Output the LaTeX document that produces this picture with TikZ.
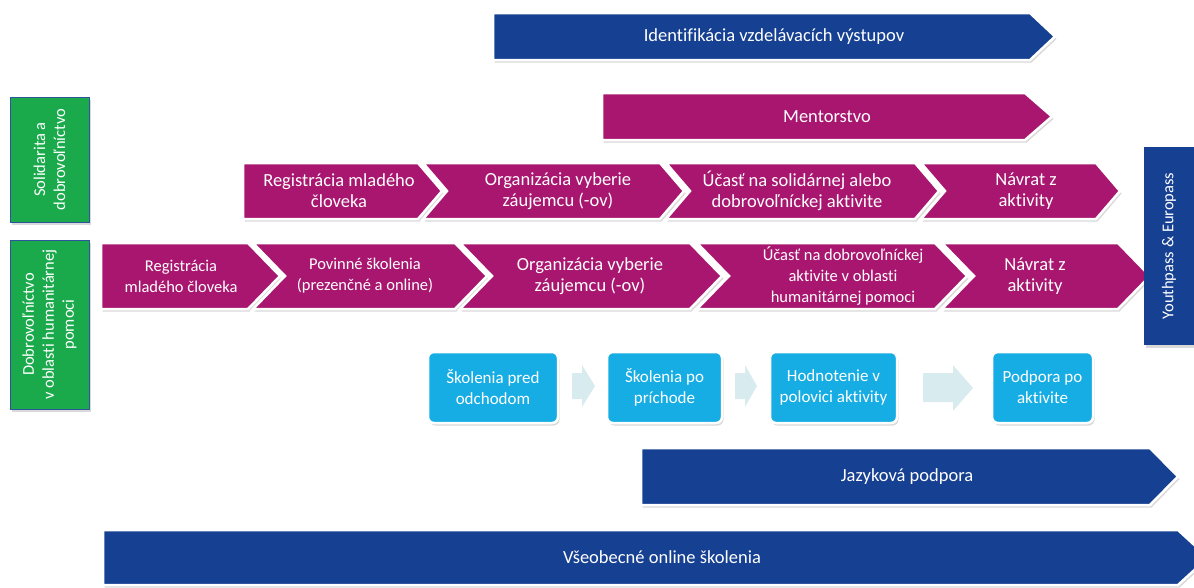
\documentclass[tikz,border=0pt]{standalone}
\usepackage{fontspec}
\setmainfont{Carlito}[Ligatures=NoCommon, RawFeature={-calt;-clig}]
\usetikzlibrary{shadows}

\definecolor{darkblue}{RGB}{22,64,146}
\definecolor{plum}{RGB}{168,22,112}
\definecolor{leafgreen}{RGB}{26,170,75}
\definecolor{skyblue}{RGB}{22,173,228}
\definecolor{palecyan}{RGB}{216,235,238}
\definecolor{edgeblue}{RGB}{46,84,160}

\tikzset{
  band/.style={draw=white, line width=2.5pt, line join=miter,
    drop shadow={shadow xshift=1.5pt, shadow yshift=-2.5pt, opacity=.3}},
  lbl/.style={text=white, align=center, font=\fontsize{18.5}{21}\selectfont},
  small/.style={text=white, align=center, font=\fontsize{16.5}{21}\selectfont},
  sidebox/.style={rotate=90, fill=leafgreen, draw=edgeblue, line width=0.8pt,
    text=white, align=center, font=\fontsize{16.5}{20}\selectfont,
    drop shadow={shadow xshift=1.5pt, shadow yshift=-2.5pt, opacity=.3}},
  phase/.style={rounded corners=6pt, fill=skyblue, draw=white, line width=2.5pt,
    text=white, align=center, minimum height=71pt, font=\fontsize{17}{21}\selectfont,
    drop shadow={shadow xshift=1.5pt, shadow yshift=-2.5pt, opacity=.3}},
  hint/.style={fill=palecyan, draw=none}
}

\begin{document}
\begin{tikzpicture}[x=1pt, y=-1pt]
  \useasboundingbox (0,0) rectangle (1194,587);

  % Long bands on top
  \draw[band, fill=darkblue] (493,13) -- (1030,13) -- (1055,36.5) -- (1030,60) -- (493,60) -- cycle;
  \node[lbl] (ident) at (774,36.5) {Identifikácia vzdelávacích výstupov};
  \draw[band, fill=plum] (602,93) -- (1025,93) -- (1052,116.5) -- (1025,140) -- (602,140) -- cycle;
  \node[lbl] (mentor) at (827,116.5) {Mentorstvo};

  % Green side labels
  \node[sidebox, minimum width=125pt, minimum height=79pt] (solid) at (49.5,159.5)
    {Solidarita a\\dobrovoľníctvo};
  \node[sidebox, minimum width=169pt, minimum height=79pt] (human) at (49.5,324.5)
    {Dobrovoľníctvo\\v oblasti humanitárnej\\pomoci};

  % Row 1: solidarity
  \draw[band, fill=plum] (243,163) -- (418,163) -- (442,191) -- (418,219) -- (243,219) -- cycle;
  \draw[band, fill=plum] (423,163) -- (660,163) -- (684,191) -- (660,219) -- (423,219) -- (447,191) -- cycle;
  \draw[band, fill=plum] (666,163) -- (915,163) -- (939,191) -- (915,219) -- (666,219) -- (690,191) -- cycle;
  \draw[band, fill=plum] (921,163) -- (1096,163) -- (1120,191) -- (1096,219) -- (921,219) -- (945,191) -- cycle;
  \node[lbl] (reg1) at (339,191) {Registrácia mladého\\človeka};
  \node[lbl] (org1) at (558,191) {Organizácia vyberie\\záujemcu (-ov)};
  \node[lbl] (act1) at (797,191) {Účasť na solidárnej alebo\\dobrovoľníckej aktivite};
  \node[lbl] (ret1) at (1026,191) {Návrat z\\aktivity};

  % Row 2: humanitarian aid
  \draw[band, fill=plum] (101,243) -- (248,243) -- (280,276) -- (248,309) -- (101,309) -- cycle;
  \draw[band, fill=plum] (253,243) -- (455,243) -- (487,276) -- (455,309) -- (253,309) -- (285,276) -- cycle;
  \draw[band, fill=plum] (460,243) -- (690,243) -- (722,276) -- (690,309) -- (460,309) -- (492,276) -- cycle;
  \draw[band, fill=plum] (697,243) -- (935,243) -- (967,276) -- (935,309) -- (697,309) -- (729,276) -- cycle;
  \draw[band, fill=plum] (942,243) -- (1118,243) -- (1150,276) -- (1118,309) -- (942,309) -- (974,276) -- cycle;
  \node[small] (reg2) at (181,276) {Registrácia\\mladého človeka};
  \node[small] (train2) at (365,276) {Povinné školenia\\(prezenčné a online)};
  \node[lbl] (org2) at (590,276) {Organizácia vyberie\\záujemcu (-ov)};
  \node[small] (act2) at (843,276) {Účasť na dobrovoľníckej\\aktivite v oblasti\\humanitárnej pomoci};
  \node[lbl] (ret2) at (1035,276) {Návrat z\\aktivity};

  % Youthpass
  \node[sidebox, fill=darkblue, draw=none, minimum width=198pt, minimum height=50pt] (ypass)
    at (1169,246) {Youthpass \& Europass};

  % Support phases
  \fill[hint] (572,373) -- (582,373) -- (582,365) -- (595,386) -- (582,407) -- (582,399) -- (572,399) -- cycle;
  \fill[hint] (735,373) -- (745,373) -- (745,365) -- (757,386) -- (745,407) -- (745,399) -- (735,399) -- cycle;
  \fill[hint] (923,373) -- (953,373) -- (953,365) -- (973,388) -- (953,411) -- (953,402) -- (923,402) -- cycle;
  \node[phase, minimum width=130pt] (pre) at (493,387.5) {Školenia pred\\odchodom};
  \node[phase, minimum width=115pt] (post) at (664.5,387.5) {Školenia po\\príchode};
  \node[phase, minimum width=127pt] (mid) at (833.5,387.5) {Hodnotenie v\\polovici aktivity};
  \node[phase, minimum width=101pt] (after) at (1042.5,387.5) {Podpora po\\aktivite};

  % Bottom bands
  \draw[band, fill=darkblue] (641,448) -- (1150,448) -- (1178,476.5) -- (1150,505) -- (641,505) -- cycle;
  \node[lbl] (lang) at (907,476.5) {Jazyková podpora};
  \draw[band, fill=darkblue] (103,530) -- (1178,530) -- (1208,557.5) -- (1178,585) -- (103,585) -- cycle;
  \node[lbl] (online) at (662,557.5) {Všeobecné online školenia};

\end{tikzpicture}
\end{document}
